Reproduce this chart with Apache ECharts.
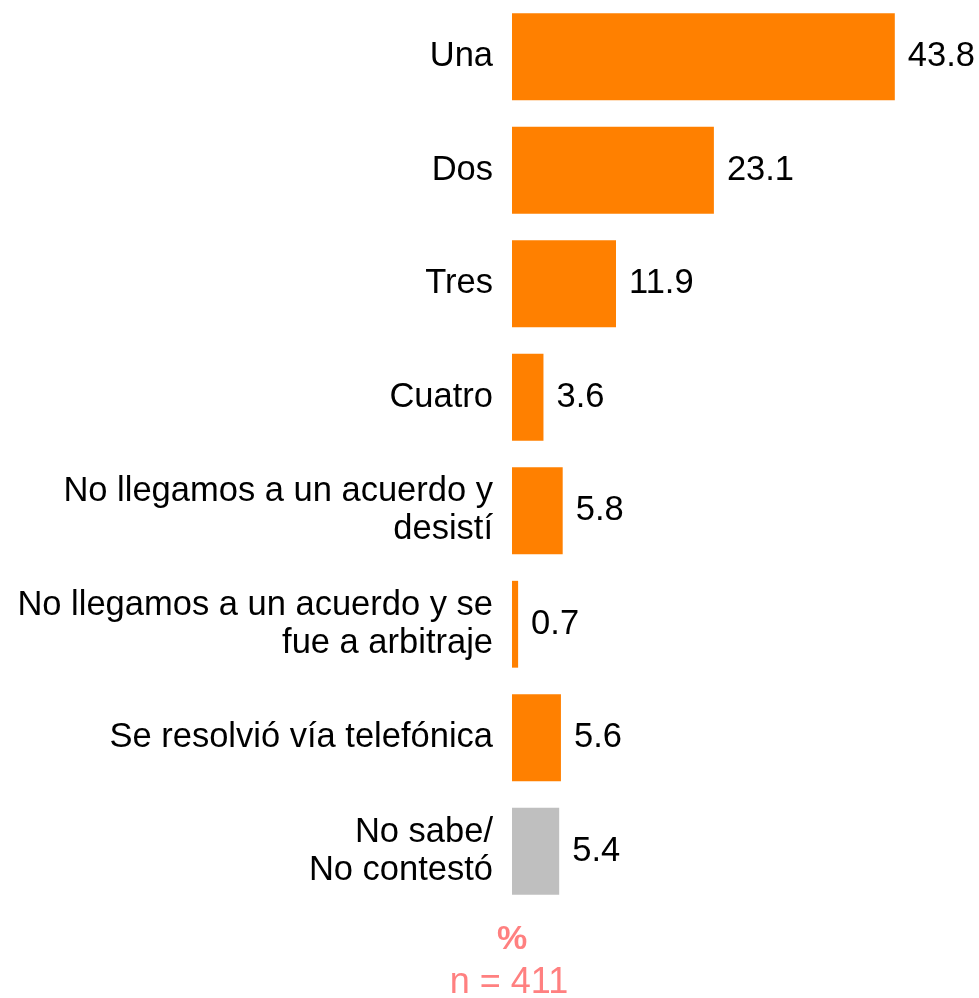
<!DOCTYPE html>
<html>
<head>
<meta charset="utf-8">
<script src="https://cdn.jsdelivr.net/npm/echarts@6/dist/echarts.min.js"></script>
<style>
  html, body { margin: 0; padding: 0; background: #ffffff; }
  #chart { width: 979px; height: 998px; }
</style>
</head>
<body>
<div id="chart"></div>
<script>
// Responses and their shares (%)
const categories = [
  'Una',
  'Dos',
  'Tres',
  'Cuatro',
  'No llegamos a un acuerdo y\ndesistí',
  'No llegamos a un acuerdo y se\nfue a arbitraje',
  'Se resolvió vía telefónica',
  'No sabe/\nNo contestó'
];
const values = [43.8, 23.1, 11.9, 3.6, 5.8, 0.7, 5.6, 5.4];
const barColors = ['#FF8000', '#FF8000', '#FF8000', '#FF8000', '#FF8000', '#FF8000', '#FF8000', '#BFBFBF'];
const unitLabel = '%';
const sampleLabel = 'n = 411';

const FONT = 'Liberation Sans, Arial, sans-serif';
const AXIS_X = 512;
const chart = echarts.init(document.getElementById('chart'));

chart.setOption({
  animation: false,
  backgroundColor: '#ffffff',
  grid: { left: AXIS_X, top: -4, width: 437, height: 912, containLabel: false },
  xAxis: {
    type: 'value', min: 0, max: 50, show: false
  },
  yAxis: {
    type: 'category',
    data: categories,
    inverse: true,
    axisLine: { show: false },
    axisTick: { show: false },
    axisLabel: {
      margin: 19,
      color: '#000000',
      fontFamily: FONT,
      fontSize: 34.5,
      lineHeight: 38,
      align: 'right'
    }
  },
  series: [{
    type: 'bar',
    data: values.map((v, i) => ({ value: v, itemStyle: { color: barColors[i] } })),
    barCategoryGap: '23.5%',
    label: {
      show: true,
      position: 'right',
      distance: 13,
      color: '#000000',
      fontFamily: FONT,
      fontSize: 34.5,
      formatter: p => p.value.toFixed(1)
    }
  }],
  graphic: [
    {
      type: 'text', x: AXIS_X, y: 940,
      style: {
        text: unitLabel, fill: '#FF8080', fontFamily: FONT, fontSize: 34,
        fontWeight: 'bold', textAlign: 'center', textVerticalAlign: 'middle'
      }
    },
    {
      type: 'text', x: AXIS_X - 3, y: 983,
      style: {
        text: sampleLabel, fill: '#FF8080', fontFamily: FONT, fontSize: 36,
        textAlign: 'center', textVerticalAlign: 'middle'
      }
    }
  ]
});
</script>
</body>
</html>
